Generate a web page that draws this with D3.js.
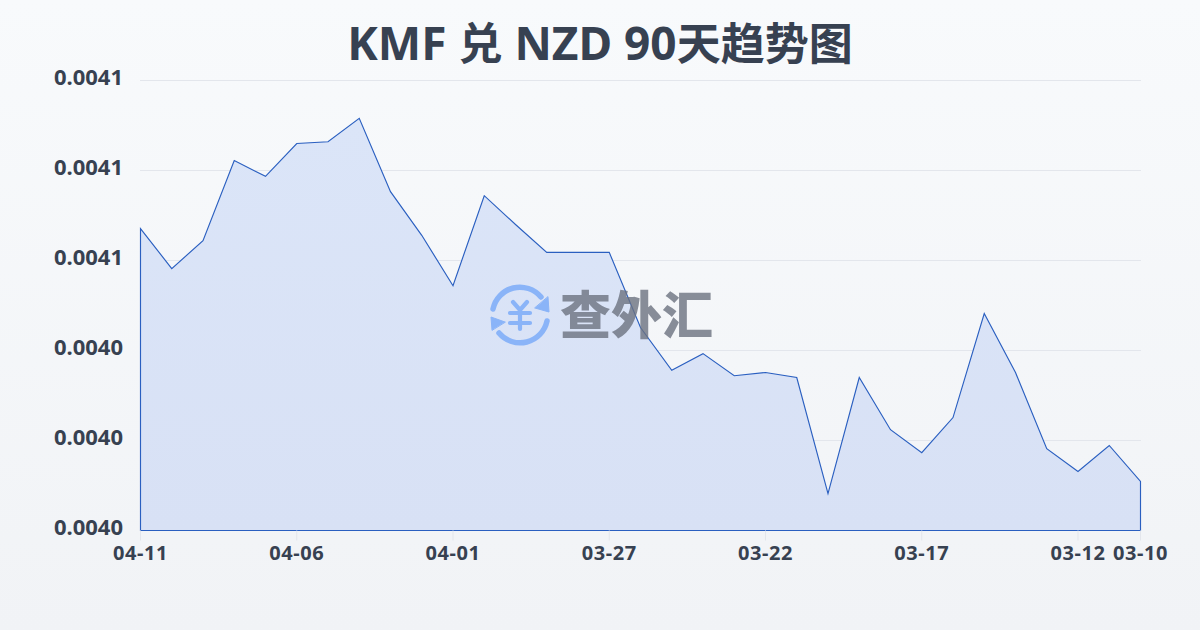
<!DOCTYPE html>
<html><head><meta charset="utf-8">
<script src="https://cdn.jsdelivr.net/npm/d3@7"></script>
<style>
html,body{margin:0;padding:0;width:1200px;height:630px;overflow:hidden;background:#f5f7fa}
svg{display:block}
text{font-family:"Noto Sans","Noto Sans CJK SC",sans-serif}
</style></head><body>
<script>
const titleText = "KMF 兑 NZD 90天趋势图";
const watermarkText = "查外汇";
const dates = ["04-11","04-10","04-09","04-08","04-07","04-06","04-05","04-04","04-03","04-02","04-01",
  "03-31","03-30","03-29","03-28","03-27","03-26","03-25","03-24","03-23","03-22","03-21","03-20","03-19",
  "03-18","03-17","03-16","03-15","03-14","03-13","03-12","03-11","03-10"];
const rates = [0.0040671,0.0040582,0.0040644,0.0040822,0.0040787,0.0040860,0.0040864,0.0040916,0.0040753,
  0.0040656,0.0040544,0.0040744,0.0040680,0.0040618,0.0040618,0.0040618,0.0040451,0.0040356,0.0040393,
  0.0040344,0.0040351,0.0040340,0.0040082,0.0040340,0.0040224,0.0040173,0.0040251,0.0040482,0.0040351,
  0.0040182,0.0040131,0.0040189,0.0040109];
const xTickLabels = ["04-11","04-06","04-01","03-27","03-22","03-17","03-12","03-10"];
const yTicks = [0.0040,0.00402,0.00404,0.00406,0.00408,0.0041];

const svg = d3.select("body").append("svg").attr("width",1200).attr("height",630);
const defs = svg.append("defs");
const bg = defs.append("linearGradient").attr("id","bg").attr("x1",0).attr("y1",0).attr("x2",0).attr("y2",1);
bg.append("stop").attr("offset",0).attr("stop-color","#f8fafc");
bg.append("stop").attr("offset",1).attr("stop-color","#f1f3f6");
const af = defs.append("linearGradient").attr("id","af").attr("x1",0).attr("y1",0).attr("x2",0).attr("y2",1);
af.append("stop").attr("offset",0).attr("stop-color","#dbe5f8");
af.append("stop").attr("offset",1).attr("stop-color","#d8e1f5");
svg.append("rect").attr("width",1200).attr("height",630).attr("fill","url(#bg)");

const x = d3.scalePoint().domain(dates).range([140.5,1140.5]);
const y = d3.scaleLinear().domain([0.0040,0.0041]).range([530.5,80.5]);

svg.append("g").selectAll("line").data(yTicks.slice(1)).join("line")
  .attr("x1",140).attr("x2",1141).attr("y1",d=>y(d)).attr("y2",d=>y(d))
  .attr("stroke","#e3e6ec").attr("stroke-width",1);

const area = d3.area().x((d,i)=>x(dates[i])).y0(y(0.0040)).y1(d=>y(d));
svg.append("path").attr("d",area(rates))
  .attr("fill","url(#af)").attr("stroke","#2a5fc0").attr("stroke-width",1.15).attr("stroke-linejoin","miter");

const xAxis = d3.axisBottom(x).tickValues(xTickLabels).tickSize(10).tickPadding(5).offset(0);
const gx = svg.append("g").attr("transform","translate(0,530.5)").call(xAxis);
gx.select(".domain").remove();
gx.selectAll("line").attr("stroke","#e3e6ec");
gx.selectAll("text").attr("font-size",20).attr("letter-spacing",0.55).attr("font-weight",700).attr("fill","#374151");

const yAxis = d3.axisLeft(y).tickValues(yTicks).tickSize(0).tickPadding(17).tickFormat(d3.format(".4f")).offset(0);
const gy = svg.append("g").attr("transform","translate(140,-3)").call(yAxis);
gy.select(".domain").remove();
gy.selectAll("text").attr("font-size",22).attr("font-weight",700).attr("fill","#374151");

const title = svg.append("text").attr("x",600).attr("y",60).attr("text-anchor","middle")
  .attr("font-weight",700).attr("fill","#374151");
titleText.match(/[\u4e00-\u9fff]+|[^\u4e00-\u9fff]+/g).forEach(seg => {
  const cjk = /[\u4e00-\u9fff]/.test(seg);
  title.append("tspan").attr("font-size",cjk?44:46).attr("xml:space","preserve")
    .style("white-space","pre").text(seg);
});

const wm = svg.append("g");
const logoBlue = "#8ab4f8";
const logo = wm.append("g").attr("transform","translate(520,315)").attr("fill","none").attr("stroke",logoBlue).attr("stroke-linecap","round");
logo.append("path").attr("d","M-27,-6 A27.5,27.5 0 0 1 21,-18").attr("stroke-width",5.5);
logo.append("path").attr("d","M27,6 A27.5,27.5 0 0 1 -21,18").attr("stroke-width",5.5);
logo.append("path").attr("d","M28,-18 L29,-3 L15,-7 Z").attr("fill",logoBlue).attr("stroke",logoBlue).attr("stroke-width",1);
logo.append("path").attr("d","M-28,15 L-29,2 L-15,7 Z").attr("fill",logoBlue).attr("stroke",logoBlue).attr("stroke-width",1);
logo.append("path").attr("d","M-7,-13 L0,-5 L7,-13 M-10,-2 H10 M-10,8 H10 M0,-5 V14").attr("stroke-width",4.2);
wm.append("text").attr("x",560).attr("y",334).attr("font-family","'Noto Sans CJK SC'").attr("font-size",51)
  .attr("font-weight",900).attr("fill","#6b7280").attr("fill-opacity",.8).text(watermarkText);
</script>
</body></html>
